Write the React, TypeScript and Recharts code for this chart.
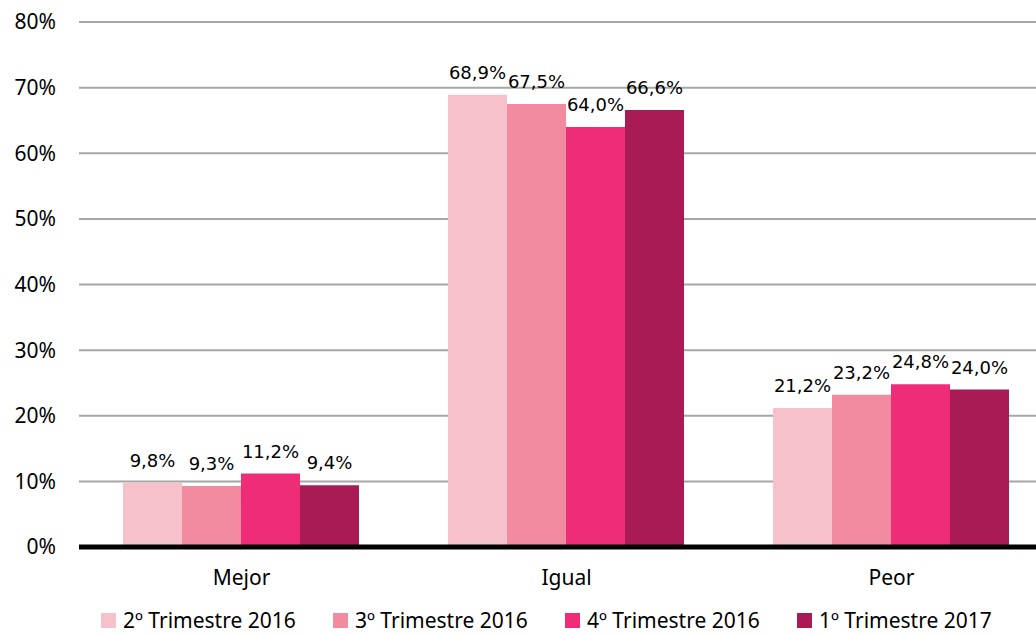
import React from 'react';
import { BarChart, Bar, XAxis, YAxis, CartesianGrid, LabelList, ReferenceLine } from 'recharts';

const categories = ['Mejor', 'Igual', 'Peor'];
const seriesNames = ['2º Trimestre 2016', '3º Trimestre 2016', '4º Trimestre 2016', '1º Trimestre 2017'];
const q2_2016 = [9.8, 68.9, 21.2];
const q3_2016 = [9.3, 67.5, 23.2];
const q4_2016 = [11.2, 64.0, 24.8];
const q1_2017 = [9.4, 66.6, 24.0];
const yTicks = [0, 10, 20, 30, 40, 50, 60, 70, 80];

const colors = ['#F6C1CB', '#F38BA0', '#EE2C78', '#A81B54'];
const keys = ['s1', 's2', 's3', 's4'];

const data = categories.map((name, i) => ({
  name,
  s1: q2_2016[i],
  s2: q3_2016[i],
  s3: q4_2016[i],
  s4: q1_2017[i],
}));

const fmt = (v: any) => `${Number(v).toFixed(1).replace('.', ',')}%`;

const axisFont = '"Noto Sans", sans-serif';
const labelFont = '"DejaVu Sans", sans-serif';

export default function App() {
  return (
    <div style={{ position: 'absolute', left: 0, top: 0, width: 1036, height: 635, overflow: 'hidden', background: '#fff' }}>
      <BarChart
        width={1054}
        height={635}
        data={data}
        margin={{ top: 22, right: 0, bottom: 0, left: 0 }}
        barGap={0}
        barCategoryGap={44}
      >
        <CartesianGrid vertical={false} stroke="#A6A6A6" strokeWidth={2} />
        <XAxis
          dataKey="name"
          height={88}
          axisLine={false}
          tickLine={false}
          tickMargin={17}
          tick={{ fill: '#000', fontSize: 21, fontFamily: axisFont }}
        />
        <YAxis
          width={79}
          domain={[0, 80]}
          ticks={yTicks}
          interval={0}
          axisLine={false}
          tickLine={false}
          tickSize={0}
          tickMargin={23}
          tickFormatter={(v) => `${v}%`}
          tick={{ fill: '#000', fontSize: 21, fontFamily: axisFont }}
        />
        {keys.map((k, i) => (
          <Bar key={k} dataKey={k} name={seriesNames[i]} fill={colors[i]} isAnimationActive={false}>
            <LabelList
              dataKey={k}
              position="top"
              offset={16}
              formatter={fmt}
              style={{ fill: '#000', fontSize: 18, fontFamily: labelFont }}
            />
          </Bar>
        ))}
        <ReferenceLine y={0} stroke="#000" strokeWidth={5} />
      </BarChart>
      <div style={{ position: 'absolute', left: 101, top: 606, display: 'flex', fontFamily: axisFont, fontSize: 21, color: '#000' }}>
        {seriesNames.map((n, i) => (
          <div key={n} style={{ width: 232, display: 'flex', alignItems: 'center' }}>
            <span style={{ display: 'inline-block', width: 15, height: 15, background: colors[i], marginRight: 7 }} />
            <span>{n}</span>
          </div>
        ))}
      </div>
    </div>
  );
}
